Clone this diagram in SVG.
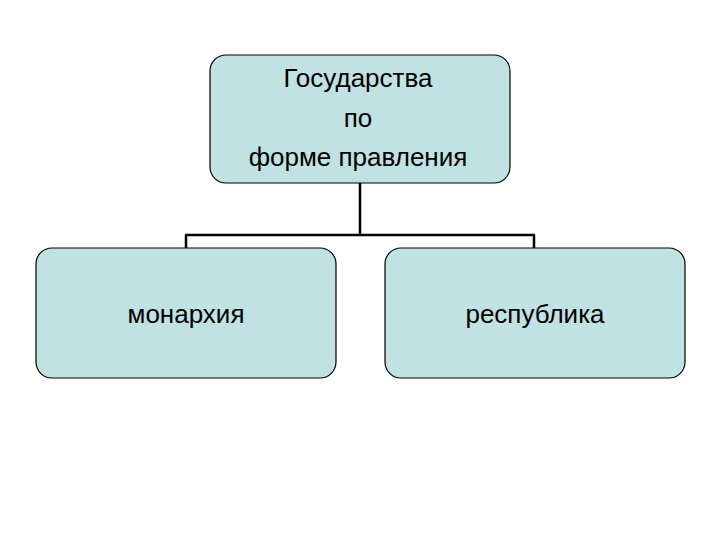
<svg xmlns="http://www.w3.org/2000/svg" width="720" height="540" viewBox="0 0 720 540">
<style>
.box{fill:#c0e2e2;stroke:#000;stroke-width:1.2}
.t{font-family:"Liberation Sans",Arial,sans-serif;font-size:26px;fill:#000;text-anchor:middle}
.c{stroke:#000;stroke-width:2.5;fill:none}
</style>
<rect width="720" height="540" fill="#fff"/>
<g id="connectors">
<path class="c" d="M360 183V235M185 235H535M186 235V248M534 235V248"/>
</g>
<g id="root">
<rect class="box" x="210" y="55" width="300" height="128" rx="16"/>
<text class="t" x="358" y="87">Государства</text>
<text class="t" x="358" y="127">по</text>
<text class="t" x="358" y="166">форме правления</text>
</g>
<g id="monarchy">
<rect class="box" x="36" y="248" width="300" height="130" rx="16"/>
<text class="t" x="186" y="323">монархия</text>
</g>
<g id="republic">
<rect class="box" x="385" y="248" width="300" height="130" rx="16"/>
<text class="t" x="535" y="323">республика</text>
</g>
</svg>
